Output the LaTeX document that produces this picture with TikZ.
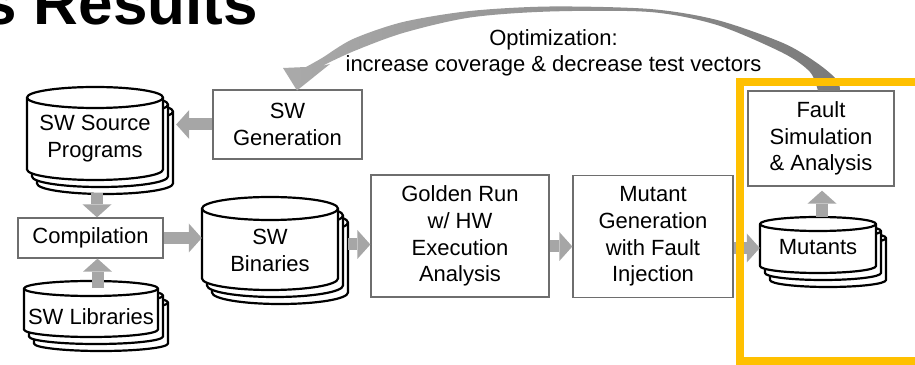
\documentclass[tikz,border=0pt]{standalone}
\usepackage{fontspec}
\setmainfont{Liberation Sans}
\usetikzlibrary{arrows.meta,calc,backgrounds}

\definecolor{blockgray}{RGB}{166,166,166}
\definecolor{boxline}{RGB}{110,110,110}
\definecolor{frameyellow}{RGB}{255,192,0}
\definecolor{loopL}{RGB}{170,170,170}
\definecolor{loopM}{RGB}{184,184,184}
\definecolor{loopR}{RGB}{122,122,122}

\newcommand\diagfont{\fontsize{22}{26.7}\selectfont}

\tikzset{
  proc/.style={draw=boxline, line width=1.3pt, fill=white, align=center,
    inner sep=0pt, font=\diagfont},
  txt/.style={align=center, inner sep=0pt, font=\diagfont},
  cylarea/.style={inner sep=0pt},
  cylline/.style={draw=black, line width=2.2pt, fill=white, line join=round},
  blk/.style={draw=blockgray, line width=12pt,
    -{Triangle[length=13pt,width=29pt,line width=0pt]}},
}

% stacked cylinder (three copies) around a named area node
% #1 node, #2 half width, #3 half height, #4 ellipse y radius
\newcommand\cylstack[4]{%
  \foreach \k in {2,1,0}{
    \begin{scope}[shift={($(#1.center)+(5*\k,-7*\k)$)}]
      \path[cylline] (-#2,#3-#4) -- (-#2,-#3+#4)
        arc[start angle=180,end angle=360,x radius=#2pt,y radius=#4pt]
        -- (#2,#3-#4)
        arc[start angle=0,end angle=180,x radius=#2pt,y radius=#4pt] -- cycle;
      \draw[cylline,fill=none] (-#2,#3-#4)
        arc[start angle=180,end angle=360,x radius=#2pt,y radius=#4pt];
    \end{scope}}}

\begin{document}
\begin{tikzpicture}[x=1pt,y=1pt]
\useasboundingbox (0,0) rectangle (915,364);
\clip (0,0) rectangle (915,364);

% heading
\node[anchor=base east, inner sep=0pt, font=\fontsize{62}{70}\selectfont\bfseries]
  (title) at (258,339) {s Results};

% process boxes
\node[proc, minimum width=149pt, minimum height=69pt] (gen) at (287.5,239.5) {SW\\Generation};
\node[proc, minimum width=145pt, minimum height=40pt] (comp) at (90.5,126) {Compilation};
\node[proc, minimum width=178pt, minimum height=122pt] (gold) at (460,128)
  {Golden Run\\w/ HW\\Execution\\Analysis};
\node[proc, minimum width=160pt, minimum height=122pt] (mutg) at (653,127.5)
  {Mutant\\Generation\\with Fault\\Injection};
\node[proc, minimum width=146pt, minimum height=95pt] (fault) at (821,225.5)
  {Fault\\Simulation\\\& Analysis};

% data stores (front cylinder areas)
\node[cylarea, minimum width=136pt, minimum height=93pt] (src) at (95,230.5) {};
\node[cylarea, minimum width=134pt, minimum height=56pt] (lib) at (91,55) {};
\node[cylarea, minimum width=136pt, minimum height=93pt] (bin) at (270,120.5) {};
\node[cylarea, minimum width=116pt, minimum height=56pt] (mutants) at (818,119) {};

\begin{scope}[on background layer]
  \cylstack{src}{68}{46.5}{10.5}
  \cylstack{lib}{67}{28}{7.5}
  \cylstack{bin}{68}{46.5}{11.5}
  \cylstack{mutants}{58}{28}{7}
\end{scope}

\node[txt] (srct) at (95,225.7) {SW Source\\Programs};
\node[txt] (libt) at (91,47) {SW Libraries};
\node[txt] (bint) at (270,113.5) {SW\\Binaries};
\node[txt] (mutt) at (818,116.5) {Mutants};

% flow arrows
\draw[blk] (gen.west) -- ($(gen.west -| src.east)+(13,0)$);
\draw[blk] ($(src.south)+(2,-13)$) -- ($(src.south |- comp.north)+(2,0)$);
\draw[blk] ($(lib.north)+(6.5,-7)$) -- ($(lib.north |- comp.south)+(6.5,0)$);
\draw[blk] (comp.east) -- (comp.east -| bin.west);
\draw[blk] ($(bin.east)+(10,-1)$) -- ($(bin.east -| gold.west)+(0,-1)$);
\draw[blk] ($(gold.east)+(0,-10.5)$) -- ($(gold.east -| mutg.west)+(0,-10.5)$);
\draw[blk] ($(mutg.east)+(0,-11.5)$) -- ($(mutg.east -| mutants.west)+(0,-11.5)$);
\draw[blk] ($(fault.south |- mutants.north)+(1,0)$) -- ($(fault.south)+(1,-4)$);

% optimization feedback loop
\shade[left color=loopL, middle color=loopM, right color=loopR]
  plot[smooth] coordinates {(840,273) (837,284) (817,301) (783,321) (717,344)
    (650,355) (550,357.5) (470,353) (403,342) (353,325) (322,306) (306,297)}
  -- (283,296) -- (297,273.5) -- (330,300) --
  plot[smooth] coordinates {(322,298) (353,312.5) (403,331) (470,346.5) (550,352.5)
    (650,352) (717,339) (783,311) (810,292) (818,273)} -- cycle;
\node[txt] (opt) at (553.5,311.2) {Optimization:\\increase coverage \& decrease test vectors};

% highlight frame
\draw[frameyellow, line width=8pt] (925,281.5) -- (740,281.5) -- (740,3.5) -- (925,3.5);
\end{tikzpicture}
\end{document}
